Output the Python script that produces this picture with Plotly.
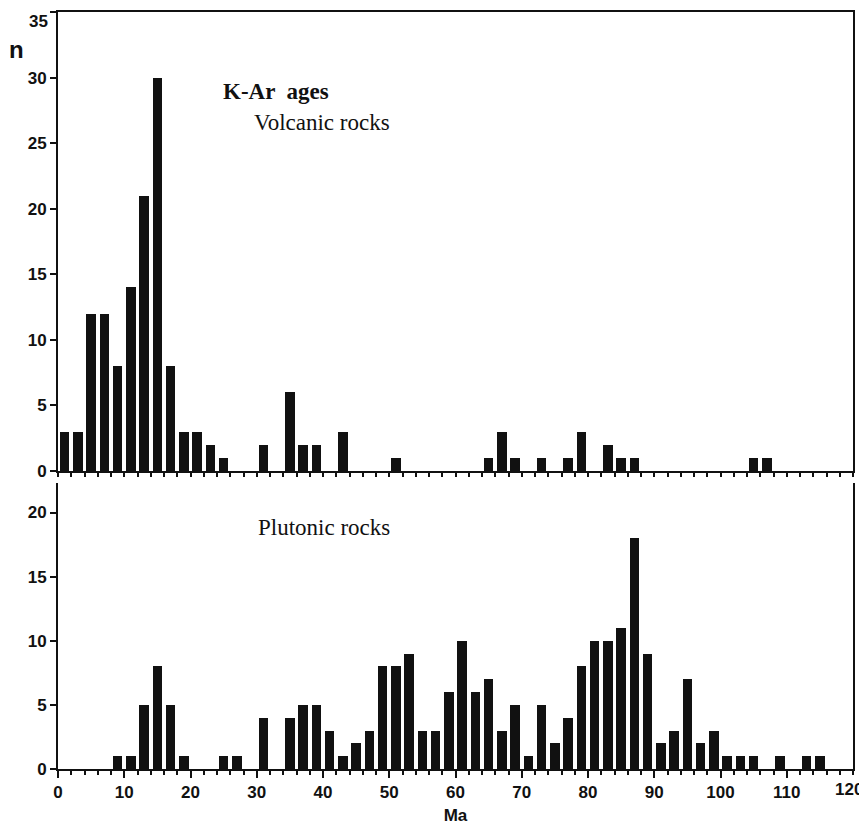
import plotly.graph_objects as go

# Age bins (Ma), bin centres every 2 Ma
volc_age = [1, 3, 5, 7, 9, 11, 13, 15, 17, 19, 21, 23, 25, 31, 35, 37, 39, 43, 51,
            65, 67, 69, 73, 77, 79, 83, 85, 87, 105, 107]
volc_n = [3, 3, 12, 12, 8, 14, 21, 30, 8, 3, 3, 2, 1, 2, 6, 2, 2, 3, 1,
          1, 3, 1, 1, 1, 3, 2, 1, 1, 1, 1]

plut_age = [9, 11, 13, 15, 17, 19, 25, 27, 31, 35, 37, 39, 41, 43, 45, 47, 49, 51, 53,
            55, 57, 59, 61, 63, 65, 67, 69, 71, 73, 75, 77, 79, 81, 83, 85, 87, 89,
            91, 93, 95, 97, 99, 101, 103, 105, 109, 113, 115]
plut_n = [1, 1, 5, 8, 5, 1, 1, 1, 4, 4, 5, 5, 3, 1, 2, 3, 8, 8, 9,
          3, 3, 6, 10, 6, 7, 3, 5, 1, 5, 2, 4, 8, 10, 10, 11, 18, 9,
          2, 3, 7, 2, 3, 1, 1, 1, 1, 1, 1]

x_ticks = [0, 10, 20, 30, 40, 50, 60, 70, 80, 90, 100, 110, 120]
x_labels = ["0", "10", "20", "30", "40", "50", "60", "70", "80", "90", "100", "110", "120"]
y_ticks_top = [0, 5, 10, 15, 20, 25, 30, 35]
y_labels_top = ["0", "5", "10", "15", "20", "25", "30", "35"]
y_ticks_bot = [0, 5, 10, 15, 20]

BLACK = "#111111"
SANS = "Liberation Sans, Arial, sans-serif"
tickfont = dict(family=SANS, size=17, color=BLACK, weight=700)
serif = "Liberation Serif, Times New Roman, serif"

fig = go.Figure()
fig.add_trace(go.Bar(x=volc_age, y=volc_n, width=1.4, marker=dict(color=BLACK, line=dict(width=0)),
                     xaxis="x", yaxis="y", showlegend=False))
fig.add_trace(go.Bar(x=plut_age, y=plut_n, width=1.4, marker=dict(color=BLACK, line=dict(width=0)),
                     xaxis="x2", yaxis="y2", showlegend=False))

axis_common = dict(showgrid=False, zeroline=False, showline=True, linecolor=BLACK, linewidth=2,
                   ticks="outside", tickcolor=BLACK, tickwidth=1.5, tickfont=tickfont,
                   automargin=False)

# end labels are drawn separately so that they stay inside the page edge
shown_x_labels = x_labels[:-1] + [""]
shown_y_labels = y_labels_top[:-1] + [""]

# the page body adds an 8 px offset, so the figure is 8 px smaller each way
fig.update_layout(
    width=859, height=822,
    margin=dict(l=50, r=14, t=4, b=61),
    paper_bgcolor="white", plot_bgcolor="white",
    bargap=0,
    xaxis=dict(**axis_common, domain=[0, 1], range=[0, 120], anchor="y", tickvals=list(range(0, 121, 2)),
               showticklabels=False, ticklen=4, mirror=True),
    yaxis=dict(**axis_common, domain=[0.3937, 1], range=[0, 35], anchor="x", tickvals=y_ticks_top,
               ticktext=shown_y_labels, ticklen=6, mirror=True),
    xaxis2=dict(**axis_common, domain=[0, 1], range=[0, 120], anchor="y2", tickvals=x_ticks,
                ticktext=shown_x_labels, ticklen=7,
                minor=dict(tickvals=list(range(0, 121, 2)), ticklen=4, ticks="outside",
                           tickcolor=BLACK, tickwidth=1.5),
                title=dict(text="Ma", font=dict(family=SANS, size=17, color=BLACK, weight=700), standoff=8)),
    yaxis2=dict(**axis_common, domain=[0, 0.3778], range=[0, 22.3], anchor="x2", tickvals=y_ticks_bot,
                ticklen=6, mirror=True),
)

fig.add_annotation(text=x_labels[-1], xref="paper", yref="paper", x=1, y=0, xanchor="right", yanchor="top",
                   xshift=12, yshift=-9, showarrow=False, font=tickfont)
fig.add_annotation(text=y_labels_top[-1], xref="paper", yref="paper", x=0, y=1, xanchor="right", yanchor="top",
                   xshift=-8, yshift=2, showarrow=False, font=tickfont)

fig.add_annotation(text="n", xref="paper", yref="paper", x=-0.052, y=(769 - 49) / 757,
                   showarrow=False, xanchor="center", yanchor="middle",
                   font=dict(family=SANS, size=24, color=BLACK, weight=700))
fig.add_annotation(text="K-Ar  ages", xref="x", yref="y", x=24.6, y=28.9, showarrow=False,
                   xanchor="left", yanchor="middle",
                   font=dict(family=serif, size=23, color=BLACK, weight=700))
fig.add_annotation(text="Volcanic rocks", xref="x", yref="y", x=29.3, y=26.6, showarrow=False,
                   xanchor="left", yanchor="middle",
                   font=dict(family=serif, size=23, color=BLACK))
fig.add_annotation(text="Plutonic rocks", xref="x2", yref="y2", x=29.9, y=18.8, showarrow=False,
                   xanchor="left", yanchor="middle",
                   font=dict(family=serif, size=23, color=BLACK))

fig.write_html("out.html")
